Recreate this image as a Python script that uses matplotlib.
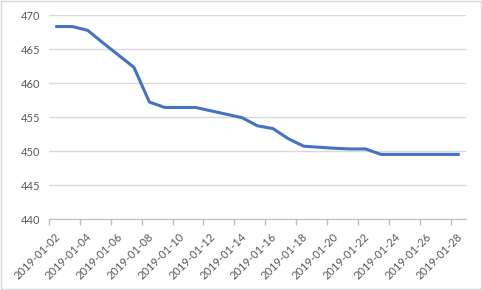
import matplotlib
matplotlib.use("Agg")
import matplotlib.pyplot as plt
import matplotlib.patches as mpatches
from matplotlib.transforms import ScaledTranslation
import numpy as np

# daily values
dates = ["2019-01-%02d" % d for d in range(2, 29)]
values = [468.3, 468.3, 467.75, 465.9, 464.1, 462.3, 457.2, 456.4, 456.4, 456.4,
          455.9, 455.4, 454.9, 453.7, 453.3, 451.8, 450.7, 450.55, 450.4, 450.3,
          450.3, 449.5, 449.5, 449.5, 449.5, 449.5, 449.5]
yticks = [440, 445, 450, 455, 460, 465, 470]

plt.rcParams['font.family'] = ['Lato', 'DejaVu Sans']
txt = '#595959'
grid = '#D9D9D9'

fig = plt.figure(figsize=(4.82, 2.90), dpi=100)
ax = fig.add_axes([49/482, 1-219/290, (466-49)/482, (219-15)/290])

x = np.arange(len(dates))
ax.plot(x, values, color='#4472C4', lw=2.2, solid_joinstyle='round', zorder=3)

ax.set_ylim(440, 470)
ax.set_yticks(yticks)
ax.set_yticklabels([str(v) for v in yticks])
ax.yaxis.grid(True, color=grid, lw=1)
ax.tick_params(axis='y', length=0, pad=6, labelsize=8, labelcolor=txt)

ax.set_xlim(-0.5, len(dates) - 0.5)
# tick marks between categories, labels on every second category
ax.set_xticks(np.arange(-0.5, len(dates) - 1, 2))
ax.set_xticklabels([])
ax.set_xticks(x[::2], minor=True)
ax.set_xticklabels(dates[::2], minor=True, rotation=45, ha='right', va='top')
ax.tick_params(axis='x', which='major', length=4, color='#BFBFBF', width=1)
ax.tick_params(axis='x', which='minor', length=0, pad=9, labelsize=8, labelcolor=txt)
for lab in ax.get_xticklabels(minor=True):
    lab.set_transform(lab.get_transform() + ScaledTranslation(6/100, 0, fig.dpi_scale_trans))

for s in ['top', 'right', 'left']:
    ax.spines[s].set_visible(False)
ax.spines['bottom'].set_color('#BFBFBF')
ax.set_axisbelow(True)

fig.patches.append(mpatches.Rectangle((0.002, 0.003), 0.995, 0.994, transform=fig.transFigure,
                                      fill=False, ec=grid, lw=1))

fig.savefig('out.png', dpi=100)
